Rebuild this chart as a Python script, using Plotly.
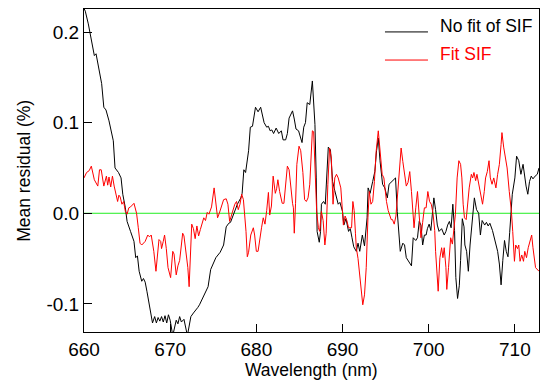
import plotly.graph_objects as go

# ---------------- data ----------------
wl_nofit = [660.0, 660.15, 660.5, 660.9, 661.2, 661.4, 661.7, 661.9, 662.05, 662.3, 662.55, 662.9, 663.2, 663.4,
            663.6, 664.0, 664.3, 664.5, 664.8, 665.0, 665.4, 665.8, 666.0, 666.2, 666.4, 666.7, 666.9, 667.1,
            667.3, 667.7, 667.95, 668.2, 668.4, 668.6, 668.8, 669.0, 669.2, 669.4, 669.6, 669.8, 670.0, 670.3,
            670.5, 670.7, 670.9, 671.1, 671.3, 671.6, 672.0, 672.2, 672.4, 672.7, 673.0, 673.2, 673.4, 673.7,
            674.0, 674.4, 674.7, 675.0, 675.3, 675.8, 676.2, 676.5, 676.8, 677.0, 677.3, 677.5, 677.8, 678.2,
            678.35, 678.55, 678.75, 679.1, 679.3, 679.55, 679.9, 680.2, 680.5, 680.9, 681.2, 681.4, 681.6, 681.8,
            682.0, 682.3, 682.6, 682.9, 683.1, 683.4, 683.6, 683.8, 684.2, 684.4, 684.6, 684.9, 685.3, 685.5,
            685.7, 685.9, 686.2, 686.5, 686.8, 686.95, 687.05, 687.3, 687.45, 687.55, 687.8, 688.0, 688.15, 688.35,
            688.6, 688.85, 689.1, 689.5, 689.7, 690.0, 690.15, 690.4, 690.7, 690.9, 691.1, 691.3, 691.6, 691.8,
            692.0, 692.3, 692.55, 692.85, 692.97, 693.2, 693.5, 693.75, 693.95, 694.15, 694.35, 694.65, 694.9, 695.2,
            695.4, 695.7, 696.15, 696.35, 696.55, 696.7, 697.0, 697.2, 697.4, 697.8, 698.0, 698.2, 698.5, 698.7,
            698.9, 699.1, 699.3, 699.5, 699.7, 699.85, 700.05, 700.25, 700.45, 700.6, 700.8, 701.0, 701.2, 701.5,
            701.8, 702.0, 702.2, 702.4, 702.6, 702.8, 703.0, 703.15, 703.35, 703.55, 703.7, 703.9, 704.1, 704.2,
            704.4, 704.6, 704.8, 705.1, 705.3, 705.55, 705.8, 706.0, 706.2, 706.5, 706.7, 706.9, 707.1, 707.4,
            707.6, 708.0, 708.2, 708.4, 708.6, 708.8, 709.0, 709.2, 709.4, 709.55, 709.7, 710.0, 710.2, 710.45,
            710.7, 710.95, 711.15, 711.3, 711.5, 711.7, 711.9, 712.1, 712.35, 712.6, 712.8]
res_nofit = [0.226, 0.223, 0.209, 0.190, 0.174, 0.176, 0.161, 0.153, 0.143, 0.117, 0.114, 0.102, 0.090, 0.080,
             0.050, 0.045, 0.039, 0.021, 0.006, -0.009, -0.020, -0.031, -0.049, -0.047, -0.064, -0.075, -0.072, -0.076,
             -0.086, -0.108, -0.121, -0.114, -0.121, -0.115, -0.119, -0.114, -0.120, -0.113, -0.121, -0.112, -0.118, -0.135,
             -0.125, -0.118, -0.122, -0.114, -0.120, -0.117, -0.135, -0.122, -0.114, -0.110, -0.107, -0.104, -0.101, -0.095,
             -0.088, -0.081, -0.062, -0.055, -0.049, -0.043, -0.035, -0.015, -0.011, -0.010, -0.003, 0.002, 0.010, 0.017,
             0.022, 0.048, 0.045, 0.069, 0.095, 0.096, 0.117, 0.112, 0.117, 0.100, 0.095, 0.096, 0.091, 0.092,
             0.088, 0.094, 0.088, 0.091, 0.081, 0.081, 0.088, 0.105, 0.113, 0.104, 0.093, 0.091, 0.078, 0.095,
             0.100, 0.122, 0.120, 0.146, 0.098, 0.039, -0.020, -0.032, -0.020, 0.010, 0.013, 0.010, 0.032, 0.073,
             0.070, 0.035, 0.025, 0.010, 0.012, 0.002, -0.013, -0.006, -0.020, -0.017, -0.027, -0.037, -0.042, -0.033,
             -0.042, -0.024, -0.036, -0.005, 0.028, 0.022, 0.035, 0.046, 0.069, 0.083, 0.058, 0.032, 0.028, 0.017,
             0.032, 0.035, 0.039, 0.002, -0.027, -0.042, -0.033, -0.035, -0.049, -0.055, -0.058, -0.027, -0.030, -0.027,
             -0.009, -0.013, -0.035, -0.024, -0.024, -0.017, -0.012, -0.019, -0.002, 0.017, 0.004, -0.013, -0.020, -0.017,
             -0.024, -0.020, -0.013, -0.009, -0.016, 0.010, -0.019, -0.071, -0.094, -0.080, -0.052, -0.006, -0.015, -0.035,
             -0.042, -0.064, -0.035, 0.002, 0.017, 0.004, 0.000, -0.024, -0.008, -0.013, -0.010, -0.014, -0.011, -0.019,
             -0.026, -0.042, -0.056, -0.079, -0.052, -0.030, -0.042, -0.048, -0.021, 0.004, 0.021, 0.039, 0.063, 0.058,
             0.043, 0.054, 0.037, 0.030, 0.021, 0.035, 0.041, 0.038, 0.041, 0.043, 0.050]

wl_fit = [660.0, 660.3, 660.6, 660.85, 661.2, 661.45, 661.6, 661.8, 662.0, 662.3, 662.45, 662.6, 662.75, 662.9,
          663.1, 663.3, 663.5, 663.7, 663.9, 664.05, 664.2, 664.4, 664.6, 664.8, 665.0, 665.2, 665.4, 665.8,
          666.0, 666.1, 666.3, 666.5, 666.7, 666.9, 667.1, 667.4, 667.6, 667.8, 668.1, 668.35, 668.5, 668.7,
          668.9, 669.0, 669.2, 669.35, 669.55, 669.75, 670.05, 670.3, 670.45, 670.7, 670.9, 671.1, 671.3, 671.45,
          671.6, 671.8, 672.05, 672.2, 672.35, 672.5, 672.7, 672.9, 673.1, 673.3, 673.5, 673.7, 673.9, 674.1,
          674.3, 674.5, 674.8, 675.1, 675.3, 675.5, 675.7, 675.9, 676.2, 676.5, 676.7, 676.9, 677.2, 677.5,
          677.7, 677.9, 678.1, 678.3, 678.5, 678.8, 678.95, 679.1, 679.35, 679.65, 679.8, 680.0, 680.2, 680.4,
          680.6, 680.8, 681.0, 681.2, 681.4, 681.55, 681.75, 681.95, 682.2, 682.35, 682.5, 682.7, 683.0, 683.2,
          683.4, 683.6, 683.8, 684.0, 684.2, 684.3, 684.4, 684.55, 684.7, 684.95, 685.15, 685.4, 685.6, 685.8,
          686.0, 686.2, 686.35, 686.5, 686.65, 686.8, 687.0, 687.2, 687.35, 687.55, 687.75, 687.95, 688.1, 688.3,
          688.5, 688.7, 688.9, 689.1, 689.3, 689.5, 689.8, 689.95, 690.1, 690.3, 690.5, 690.7, 690.9, 691.05,
          691.2, 691.35, 691.5, 691.6, 691.8, 692.0, 692.2, 692.35, 692.55, 692.75, 692.95, 693.1, 693.3, 693.5,
          693.7, 693.9, 694.15, 694.35, 694.6, 694.8, 694.95, 695.1, 695.3, 695.5, 695.65, 695.8, 696.0, 696.2,
          696.4, 696.6, 696.8, 697.0, 697.2, 697.4, 697.6, 697.8, 698.0, 698.15, 698.3, 698.5, 698.7, 698.9,
          699.1, 699.3, 699.5, 699.7, 699.9, 700.1, 700.3, 700.5, 700.7, 700.8, 700.95, 701.1, 701.3, 701.5,
          701.65, 701.8, 702.0, 702.1, 702.3, 702.45, 702.55, 702.75, 702.9, 703.1, 703.3, 703.5, 703.7, 703.85,
          704.0, 704.15, 704.35, 704.5, 704.7, 704.95, 705.1, 705.25, 705.45, 705.6, 705.8, 706.1, 706.25, 706.45,
          706.6, 706.8, 707.0, 707.15, 707.35, 707.55, 707.8, 708.0, 708.2, 708.4, 708.5, 708.7, 708.9, 709.1,
          709.35, 709.6, 709.75, 709.95, 710.1, 710.3, 710.45, 710.6, 710.8, 711.0, 711.15, 711.35, 711.55, 711.8,
          711.95, 712.1, 712.4, 712.8]
res_fit = [0.039, 0.045, 0.047, 0.052, 0.037, 0.032, 0.030, 0.048, 0.048, 0.030, 0.036, 0.041, 0.031, 0.040,
           0.029, 0.041, 0.030, 0.023, 0.013, 0.020, 0.018, 0.010, 0.013, 0.002, -0.001, 0.006, 0.007, 0.011,
           0.002, 0.000, -0.016, -0.033, -0.035, -0.033, -0.031, -0.024, -0.026, -0.024, -0.042, -0.064, -0.045, -0.029,
           -0.031, -0.039, -0.031, -0.024, -0.039, -0.060, -0.071, -0.042, -0.045, -0.068, -0.058, -0.052, -0.035, -0.022,
           -0.025, -0.040, -0.060, -0.081, -0.040, -0.012, -0.017, -0.028, -0.014, -0.025, -0.018, -0.012, -0.005, -0.008,
           0.001, -0.001, 0.007, 0.028, 0.012, -0.005, 0.000, 0.006, 0.015, 0.016, 0.010, -0.009, 0.000, 0.010,
           0.013, 0.004, 0.010, 0.021, 0.015, -0.020, -0.048, -0.043, -0.024, -0.016, -0.024, -0.042, -0.042, -0.027,
           -0.016, -0.005, -0.012, 0.003, 0.023, -0.002, 0.008, 0.041, 0.022, 0.027, 0.037, 0.024, 0.011, 0.011,
           0.032, 0.052, 0.048, 0.026, 0.011, 0.006, -0.022, 0.011, 0.054, 0.074, 0.069, 0.045, 0.015, 0.013,
           0.017, 0.032, 0.058, 0.091, 0.090, 0.046, 0.002, -0.016, -0.020, 0.002, -0.008, -0.035, -0.022, 0.032,
           0.072, 0.061, 0.010, 0.039, 0.043, 0.039, 0.028, 0.008, -0.013, -0.003, -0.008, -0.016, -0.016, -0.016,
           0.013, 0.003, -0.022, -0.038, -0.050, -0.068, -0.086, -0.101, -0.090, -0.060, -0.005, 0.024, 0.010, 0.013,
           0.035, 0.068, 0.091, 0.072, 0.043, 0.039, 0.021, 0.013, 0.003, -0.003, -0.007, -0.007, -0.012, -0.003,
           0.024, 0.054, 0.072, 0.057, 0.043, 0.030, 0.034, 0.046, 0.024, -0.002, -0.016, 0.006, 0.024, -0.003,
           -0.027, -0.010, 0.006, 0.006, 0.024, 0.013, 0.010, 0.000, -0.019, -0.042, -0.064, -0.086, -0.049, -0.038,
           -0.049, -0.038, -0.060, -0.084, -0.060, -0.038, -0.027, -0.034, -0.019, -0.001, 0.039, 0.058, 0.054, 0.039,
           0.010, -0.005, -0.007, 0.010, 0.028, 0.043, 0.039, 0.045, 0.036, 0.043, 0.033, 0.017, 0.010, 0.024,
           0.039, 0.046, 0.058, 0.039, 0.032, 0.039, 0.028, 0.043, 0.054, 0.076, 0.089, 0.073, 0.061, 0.050,
           0.024, 0.002, -0.020, -0.053, -0.035, -0.039, -0.035, -0.053, -0.046, -0.053, -0.042, -0.049, -0.038, -0.027,
           -0.024, -0.038, -0.060, -0.064]

series_names = ["No fit of SIF", "Fit SIF"]
x_tickvals = [660, 670, 680, 690, 700, 710]
x_ticktext = ["660", "670", "680", "690", "700", "710"]
y_tickvals = [-0.1, 0.0, 0.1, 0.2]
y_ticktext = ["-0.1", "0.0", "0.1", "0.2"]
x_title = "Wavelength (nm)"
y_title = "Mean residual (%)"
x_range = [660, 712.8]
y_range = [-0.131, 0.2254]

# ---------------- figure ----------------
TICK_FONT = dict(family="Liberation Sans, Arial, sans-serif", size=19, color="black")
TITLE_FONT = dict(family="Liberation Sans, Arial, sans-serif", size=17.5, color="black")

fig = go.Figure()
fig.add_trace(go.Scatter(x=wl_nofit, y=res_nofit, mode="lines", name=series_names[0],
                         line=dict(color="black", width=1), showlegend=False))
fig.add_trace(go.Scatter(x=wl_fit, y=res_fit, mode="lines", name=series_names[1],
                         line=dict(color="#ff0000", width=1), showlegend=False))

# zero reference line
fig.add_shape(type="line", xref="x domain", yref="y", x0=0, x1=1, y0=0, y1=0,
              line=dict(color="#22ee22", width=1), layer="below")

# legend drawn as line samples + text
leg_colors = ["black", "#ff0000"]
leg_y = [0.929, 0.842]
for name, col, yy in zip(series_names, leg_colors, leg_y):
    fig.add_shape(type="line", xref="x domain", yref="y domain", x0=0.6615, x1=0.756, y0=yy, y1=yy,
                  line=dict(color=col, width=1), layer="above")
    fig.add_annotation(xref="x domain", yref="y domain", x=0.777, y=yy - 0.019, xanchor="left", yanchor="bottom",
                       text=name, showarrow=False, font=dict(TITLE_FONT, color=col))

fig.add_annotation(xref="paper", yref="paper", x=0.5, y=-0.119, xanchor="center", yanchor="middle",
                   text=x_title, showarrow=False, font=TITLE_FONT)
fig.add_annotation(xref="paper", yref="paper", x=-0.1334, y=0.5, xanchor="center", yanchor="middle",
                   text=y_title, textangle=-90, showarrow=False, font=TITLE_FONT)

# primary axes: frame + tick labels
label_axis = dict(showline=True, linecolor="black", mirror=True, ticks="inside", ticklen=8,
                  tickcolor="black", showgrid=False, zeroline=False, tickfont=TICK_FONT)
# overlay axes: IDL-style inside major/minor tick marks on all four sides
tick_axis = dict(showline=True, linecolor="black", mirror="allticks", ticks="inside", ticklen=8,
                 tickcolor="black", showgrid=False, zeroline=False, showticklabels=False)

fig.update_layout(
    width=540, height=388, margin=dict(l=84, r=1, t=9, b=56),
    plot_bgcolor="white", paper_bgcolor="white", showlegend=False,
    xaxis=dict(range=x_range, tickvals=x_tickvals, ticktext=x_ticktext, **label_axis),
    yaxis=dict(range=y_range, tickvals=y_tickvals, ticktext=y_ticktext, **label_axis),
    xaxis2=dict(range=x_range, overlaying="x", anchor="y2", side="bottom", tickvals=x_tickvals,
                minor=dict(ticks="inside", ticklen=4, dtick=1), **tick_axis),
    yaxis2=dict(range=y_range, overlaying="y", anchor="x2", side="left", tickvals=y_tickvals,
                minor=dict(ticks="inside", ticklen=4, dtick=0.01), **tick_axis),
)

fig.write_html("out.html")
